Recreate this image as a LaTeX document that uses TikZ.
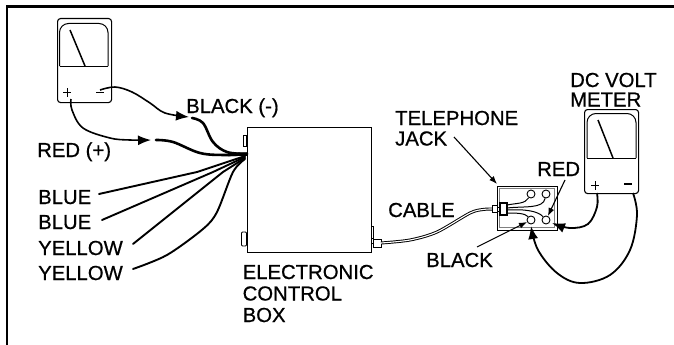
\documentclass[tikz,border=0pt]{standalone}
\usepackage{fontspec}
\setmainfont{Liberation Sans}
\newfontfamily\labfont{Liberation Sans}[RawFeature={embolden=0.7}]
\usetikzlibrary{arrows.meta}
\tikzset{
 lab/.style={font=\labfont\fontsize{20.3}{21}\selectfont, anchor=base west, inner sep=0pt, align=left},
 wire/.style={line width=1.9pt, line cap=round},
 heavy wire/.style={line width=2.6pt, line cap=round},
 lead/.style={line width=1.6pt},
 tip/.style={-{Latex[length=13pt,width=10pt]}},
 smalltip/.style={-{Latex[length=8pt,width=6pt]}, line width=1.1pt},
 meterbody/.style={line width=1.1pt, rounded corners=3pt, fill=white},
 terminal/.style={draw,circle,fill=white,line width=.9pt,minimum size=8pt,inner sep=0pt},
 fine/.style={line width=1pt},
}
\begin{document}
\begin{tikzpicture}[x=1pt,y=-1pt]
\useasboundingbox (0,0) rectangle (674,345);
\fill[white] (0,0) rectangle (674,345);
\draw[line width=2.4pt] (7,345) -- (7,6.5) -- (674,6.5);
% left meter
\node[draw,meterbody,minimum width=54pt,minimum height=84pt,inner sep=0pt,anchor=north west] (m1) at (57,18) {};
\draw[fine,rounded corners=9pt] (59.5,66) -- (59.5,23.5) -- (108,23.5) -- (108,66);
\draw[fine] (59.5,66) -- (108,66);
\draw[line width=1.5pt] (70,30) -- (85,66);
\draw[line width=1pt] (63,92.5) -- (71,92.5) (67,88) -- (67,97);
\draw[line width=1.2pt] (96,92.5) -- (104,92.5);
\coordinate (mp) at (71,99);
\coordinate (mm) at (100,90);
\coordinate (bk) at (189,117);
\coordinate (rd) at (151,140);
\coordinate (bs) at (192,118);
\coordinate (rs) at (156,140);
\coordinate (hub) at (247,154);
\draw[lead,tip] plot[smooth,tension=.6] coordinates {(mm) (115,87) (132,92) (150,103) (165,113) (bk)};
\draw[lead,tip] plot[smooth,tension=.6] coordinates {(mp) (72,110) (83,128) (110,138) (130,140) (rd)};
\node[lab] (blk) at (186,113) {BLACK (-)};
\node[lab] (redp) at (37,157) {RED (+)};
% box
\node[draw,line width=1pt,minimum width=124pt,minimum height=125pt,inner sep=0pt,anchor=north west] (ecb) at (247,127) {};
\draw[line width=.8pt,fill=white] (246.5,135) rectangle (243,146);
\draw[line width=.8pt,fill=white,rounded corners=1pt] (246.5,232) rectangle (241.5,246);
\draw[line width=.8pt] (371,226) -- (373,226) -- (373,238) -- (371,238);
\draw[line width=.9pt,fill=white] (373,239) rectangle (381,247);
\draw[line width=.9pt] (371,243) -- (373,243);
% wires
\draw[heavy wire] plot[smooth,tension=.6] coordinates {(rs) (173,142) (200,153) (225,155) (hub)};
\draw[heavy wire] plot[smooth,tension=.6] coordinates {(bs) (203,123) (213,142) (227,152) (hub)};
\draw[line width=3.5pt] (228,154.5) -- (247,154);
\coordinate (b1) at (99,194);
\coordinate (b2) at (102,220);
\coordinate (y1) at (133,244);
\coordinate (y2) at (133,269);
\coordinate (h1) at (245,156);
\coordinate (h2) at (245,157);
\coordinate (h3) at (245,158);
\coordinate (h4) at (245,159);
\draw[wire] (b1) -- (197,172) -- (h1);
\draw[wire] (b2) -- (213,172) -- (h2);
\draw[wire] (y1) -- (223,172) -- (h3);
\draw[wire] plot[smooth,tension=.5] coordinates {(y2) (167,255) (203,229) (217,212) (233,172) (h4)};
\node[lab] at (38,204) {BLUE};
\node[lab] at (38,229) {BLUE};
\node[lab] at (38,255) {YELLOW};
\node[lab] at (38,280) {YELLOW};
\node[lab] at (242.5,279) {ELECTRONIC};
\node[lab] at (242.5,300.5) {CONTROL};
\node[lab] at (242.5,322) {BOX};
% cable
\coordinate (c0) at (381,243);
\coordinate (c1) at (492,209);
\draw[line width=3pt] plot[smooth,tension=.5] coordinates {(c0) (410,240) (437,232) (470,213) (483,209.5) (c1)};
\draw[white,line width=1.1pt] plot[smooth,tension=.5] coordinates {(c0) (410,240) (437,232) (470,213) (483,209.5) (c1)};
\node[lab] at (388,217) {CABLE};
% jack
\node[draw,line width=1.4pt,minimum width=60pt,minimum height=44pt,inner sep=0pt,anchor=north west] (jk) at (497,186) {};
\draw[line width=.4pt,gray] (499.5,188.5) rectangle (554.5,227.5);
\draw[fine,fill=white] (492,205.5) rectangle (497,212.5);
\draw[line width=1.1pt,fill=white] (500,203) rectangle (507,215);
\draw[fine] (497,207) -- (500,207) (497,211) -- (500,211);
\node[terminal] (ja) at (531,194) {};
\node[terminal] (jb) at (546,194) {};
\node[terminal] (jc) at (531,220) {};
\node[terminal] (jd) at (546,220) {};
\draw[fine] (507,205) .. controls (517,203) and (525,204) .. (ja);
\draw[fine] (507,208) .. controls (525,206) and (543,209) .. (jb);
\draw[fine] (507,210) .. controls (525,209) and (538,211) .. (jd);
\draw[fine] (507,213) .. controls (515,213) and (525,213) .. (jc);
% labels
\node[lab] (tel) at (395,125) {TELEPHONE};
\node[lab] (jac) at (395,145.5) {JACK};
\coordinate (ta) at (454,137);
\draw[smalltip] (ta) -- (497,184);
\node[lab] (redl) at (537,176) {RED};
\coordinate (ra) at (565,180);
\draw[smalltip] (ra) -- (jd);
\node[lab] (blackl) at (426,267) {BLACK};
\coordinate (bla) at (477,247);
\draw[smalltip] (bla) -- (jc);
% right meter
\node[lab] at (570,87) {DC VOLT};
\node[lab] at (570,106.5) {METER};
\node[draw,meterbody,minimum width=54pt,minimum height=84pt,inner sep=0pt,anchor=north west] (m2) at (584,109) {};
\draw[fine,rounded corners=9pt] (587,158) -- (587,113.5) -- (636,113.5) -- (636,158);
\draw[fine] (587,158) -- (636,158);
\draw[line width=1.5pt] (598,120) -- (613,158);
\draw[line width=1pt] (591,185) -- (599,185) (595,181) -- (595,190);
\draw[line width=1.2pt] (624,184) -- (632,184);
\coordinate (mr1) at (597,193);
\coordinate (mr2) at (633,193);
\coordinate (t1) at (552,223);
\coordinate (t2) at (531,226);
\draw[line width=1.8pt,tip] plot[smooth,tension=.6] coordinates {(mr1) (597,207) (588,224) (570,228) (t1)};
\draw[line width=1.8pt,tip] plot[smooth,tension=.6] coordinates {(mr2) (637,215) (630,250) (610,275) (580,283) (557,273) (538,250) (t2)};
\end{tikzpicture}
\end{document}
